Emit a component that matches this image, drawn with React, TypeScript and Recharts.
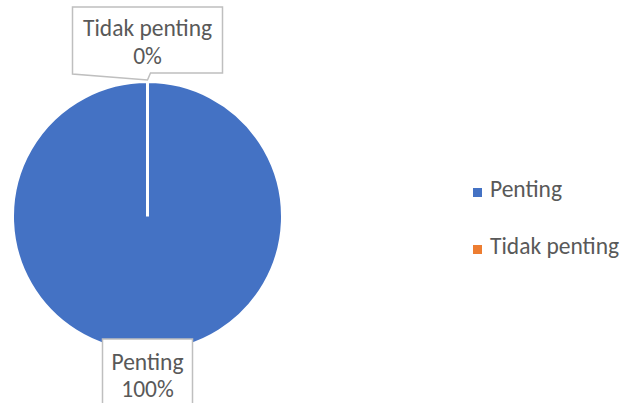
import { Cell, Legend, Pie, PieChart } from "recharts";

const categories = ["Penting", "Tidak penting"];
const values = [100, 0];
const colors = ["#4472C4", "#ED7D31"];

const chartData = categories.map((name, i) => ({ name, value: values[i] }));

const FONT = "Carlito, Calibri, Lato, sans-serif";
const FONT_SIZE = 23.5;
const TEXT = "#595959";
const BORDER = "#BFBFBF";
const RADIAN = Math.PI / 180;

function boxWidth(name: string) {
  return Math.round(name.length * 9.9 + 21);
}

function renderLabel(props: any) {
  const { cx, cy, midAngle, outerRadius, percent, name } = props;
  const px = cx + outerRadius * Math.cos(-midAngle * RADIAN);
  const py = cy + outerRadius * Math.sin(-midAngle * RADIAN);
  const w = boxWidth(name);
  const pct = `${Math.round(percent * 100)}%`;

  if (py < cy) {
    // callout above the top of the pie
    const top = py - 74.5;
    const bottom = py - 8.5;
    const left = px - w / 2;
    const right = px + w / 2;
    return (
      <g>
        <path
          d={`M${left},${top} H${right} V${bottom} H${px + 3} L${px},${py - 1.5} L${left},${bottom + 1} Z`}
          fill="#fff"
          stroke={BORDER}
          strokeWidth={1.5}
        />
        <text x={px} y={py - 45.5} textAnchor="middle" fill={TEXT} fontSize={FONT_SIZE} fontFamily={FONT}>
          {name}
        </text>
        <text x={px} y={py - 18} textAnchor="middle" fill={TEXT} fontSize={FONT_SIZE} fontFamily={FONT}>
          {pct}
        </text>
      </g>
    );
  }

  const top = py - 12.5;
  return (
    <g>
      <rect x={px - w / 2} y={top} width={w} height={80} fill="#fff" stroke={BORDER} strokeWidth={1.5} />
      <text x={px} y={py + 18.5} textAnchor="middle" fill={TEXT} fontSize={FONT_SIZE} fontFamily={FONT}>
        {name}
      </text>
      <text x={px} y={py + 45.5} textAnchor="middle" fill={TEXT} fontSize={FONT_SIZE} fontFamily={FONT}>
        {pct}
      </text>
    </g>
  );
}

function renderLegend(props: any) {
  const payload = props.payload ?? [];
  return (
    <div style={{ fontFamily: FONT, fontSize: FONT_SIZE, color: TEXT, lineHeight: "26px" }}>
      {payload.map((entry: any, i: number) => (
        <div key={i} style={{ position: "relative", height: 57, whiteSpace: "nowrap" }}>
          <span
            style={{
              position: "absolute",
              left: 0,
              top: 12,
              width: 9,
              height: 9,
              background: entry.color,
            }}
          />
          <span style={{ position: "absolute", left: 17, top: 0 }}>{entry.value}</span>
        </div>
      ))}
    </div>
  );
}

export default function App() {
  return (
    <div style={{ position: "absolute", left: 0, top: 0, width: 624, height: 403, background: "#fff" }}>
      <PieChart width={624} height={403} margin={{ top: 0, right: 0, bottom: 0, left: 0 }}>
        <Pie
          data={chartData}
          dataKey="value"
          nameKey="name"
          cx={147.5}
          cy={216.5}
          outerRadius={135}
          startAngle={90}
          endAngle={-270}
          stroke="#fff"
          strokeWidth={3}
          label={renderLabel}
          labelLine={false}
          isAnimationActive={false}
        >
          {chartData.map((d, i) => (
            <Cell key={d.name} fill={colors[i]} />
          ))}
        </Pie>
        <Legend
          content={renderLegend}
          wrapperStyle={{ position: "absolute", left: 473, top: 176, width: 151, height: 120 }}
        />
      </PieChart>
    </div>
  );
}
